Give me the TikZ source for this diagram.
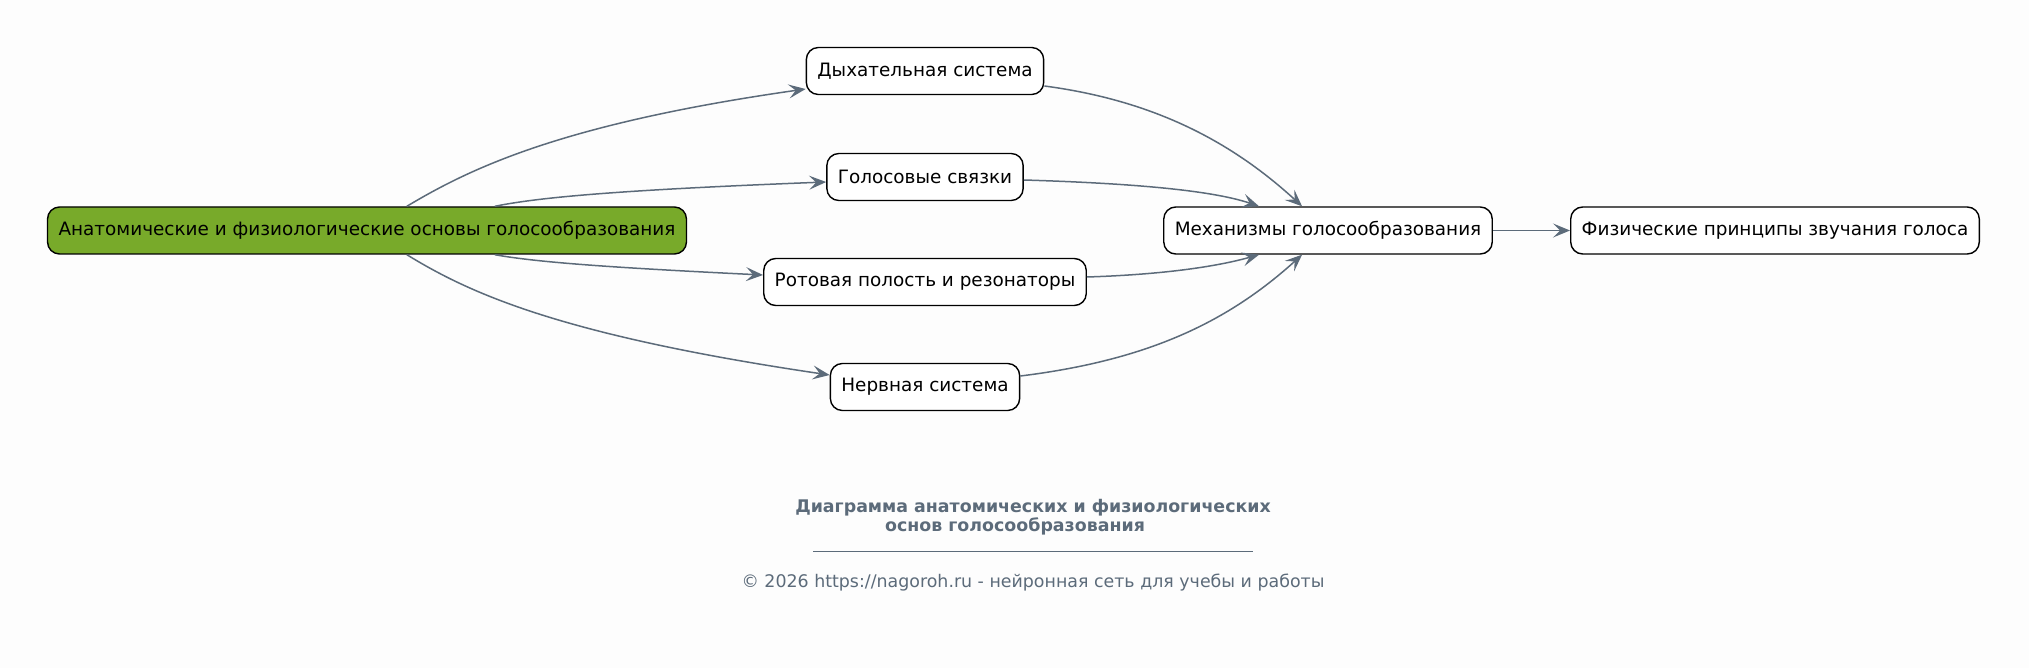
\documentclass[tikz,border=0pt]{standalone}
\usepackage{fontspec}
\setmainfont{DejaVu Sans}
\usetikzlibrary{arrows.meta,calc}
\definecolor{bgc}{RGB}{253,253,253}
\definecolor{edgec}{RGB}{92,107,122}
\definecolor{greenc}{RGB}{120,170,42}
\definecolor{capc}{RGB}{92,107,122}
\tikzset{
  box/.style={draw=black, line width=1.4pt, rounded corners=12pt, fill=white,
    minimum height=47pt, inner xsep=11pt, font=\fontsize{18.4}{21}\selectfont, text=black},
  rootbox/.style={box, fill=greenc},
  conn/.style={draw=edgec, line width=1.5pt, -{Stealth[length=17pt,width=14pt,inset=7pt]}},
}
\begin{document}
\begin{tikzpicture}[x=1pt,y=-1pt]
\fill[bgc] (0,0) rectangle (2029,668);
\useasboundingbox (0,0) rectangle (2029,668);

\node[rootbox] (g) at (367,230.5) {Анатомические и физиологические основы голосообразования};
\node[box] (d) at (925,71) {Дыхательная система};
\node[box] (v) at (925,177) {Голосовые связки};
\node[box] (r) at (925,282) {Ротовая полость и резонаторы};
\node[box] (n) at (925,387) {Нервная система};
\node[box] (m) at (1328,230.5) {Механизмы голосообразования};
\node[box] (f) at (1775,230.5) {Физические принципы звучания голоса};

% root -> intermediates
\draw[conn] ([xshift=360pt]g.north west) .. controls +(62,-37) and +(-246,35) .. ([yshift=-18pt]d.west);
\draw[conn] ([xshift=448pt]g.north west) .. controls +(44,-9) and +(-207,8) .. ([yshift=-5pt]v.west);
\draw[conn] ([xshift=448pt]g.south west) .. controls +(44,8) and +(-143,-7) .. ([yshift=7pt]r.west);
\draw[conn] ([xshift=360pt]g.south west) .. controls +(62,38) and +(-271,-40) .. ([yshift=12pt]n.west);

% intermediates -> mechanisms
\draw[conn] ([yshift=-15pt]d.east) .. controls +(106,14) and +(-73,-67) .. ([xshift=139pt]m.north west);
\draw[conn] ([yshift=-3pt]v.east) .. controls +(98,3) and +(-50,-17) .. ([xshift=96pt]m.north west);
\draw[conn] ([yshift=5pt]r.east) .. controls +(63,-2) and +(-50,14) .. ([xshift=96pt]m.south west);
\draw[conn] ([yshift=11pt]n.east) .. controls +(130,-16) and +(-73,66) .. ([xshift=139pt]m.south west);

\draw[conn] (m) -- (f);

% caption
\node[font=\bfseries\fontsize{17.4}{19.5}\selectfont, text=capc, align=center] (t) at (1033,517)
  {Диаграмма анатомических и физиологических\\основ голосообразования\hspace*{36pt}};
\coordinate (l1) at (813,551);
\coordinate (l2) at (1253,551);
\draw[capc, line width=0.8pt] (l1) -- (l2);
\node[font=\fontsize{17.4}{19.5}\selectfont, text=capc] (c) at (1033,583)
  {© 2026 https://nagoroh.ru - нейронная сеть для учебы и работы};
\end{tikzpicture}
\end{document}
